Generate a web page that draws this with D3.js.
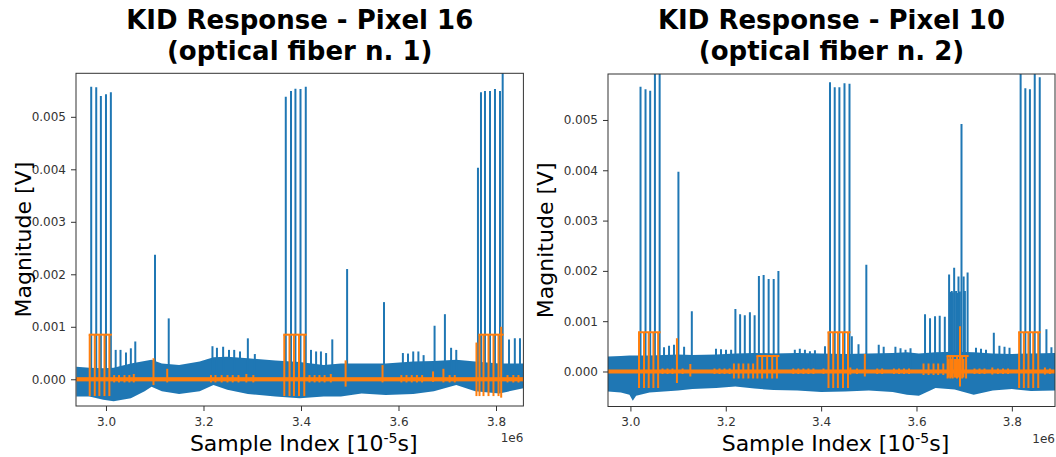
<!DOCTYPE html>
<html>
<head>
<meta charset="utf-8">
<script src="https://cdn.jsdelivr.net/npm/d3@7"></script>
<style>
  body { margin: 0; background: #fff; }
  svg { display: block; }
  text { font-family: "DejaVu Sans", sans-serif; }
</style>
</head>
<body>
<svg id="chart" width="1056" height="457"></svg>
<script>
// Shared tick values (x in units of 1e6 samples, y in volts)
const xTickValues = [3.0, 3.2, 3.4, 3.6, 3.8];
const yTickValues = [0, 0.001, 0.002, 0.003, 0.004, 0.005];

// ---------- Pixel 16 (optical fiber n. 1) ----------
const p16XDomain = [2.9385, 3.8562];
const p16YDomain = [-0.000509, 0.005829];
// noise band envelope of the raw magnitude
const p16EnvX  = [2.9393, 2.966, 2.9945, 3.0157, 3.051, 3.0793, 3.0934, 3.1146, 3.15, 3.1922, 3.2205, 3.2488, 3.291, 3.3476, 3.3971, 3.4466, 3.4819, 3.5243, 3.5737, 3.6302, 3.6726, 3.7185, 3.7573, 3.8068, 3.8562];
const p16EnvHi = [0.00024, 0.00022, 0.00021, 0.00022, 0.00030, 0.00035, 0.00037, 0.00030, 0.00027, 0.00034, 0.00042, 0.00043, 0.00040, 0.00036, 0.00033, 0.00027, 0.00030, 0.00030, 0.00030, 0.00034, 0.00035, 0.00037, 0.00034, 0.00030, 0.00030];
const p16EnvLo = [-0.00033, -0.00033, -0.00039, -0.00042, -0.00036, -0.00023, -0.00014, -0.00023, -0.00028, -0.00023, -0.00011, -0.00020, -0.00028, -0.00033, -0.00036, -0.00033, -0.00033, -0.00027, -0.00030, -0.00028, -0.00023, -0.00011, -0.00023, -0.00027, -0.00017];
// pulses: raw peak (blue) and filtered excursion (orange)
const p16SpikeX   = [2.9697, 2.980, 2.9895, 3.000, 3.010, 3.0199, 3.0298, 3.041, 3.051, 3.0601, 3.1005, 3.1287, 3.2184, 3.2276, 3.2403, 3.2523, 3.263, 3.2749, 3.291, 3.3053, 3.3688, 3.3795, 3.3886, 3.399, 3.4098, 3.4205, 3.431, 3.4409, 3.4515, 3.4642, 3.4946, 3.5703, 3.609, 3.6195, 3.6302, 3.6408, 3.6515, 3.674, 3.6952, 3.7079, 3.7185, 3.763, 3.7692, 3.7774, 3.7877, 3.7979, 3.8082, 3.8137, 3.8267, 3.8386, 3.8492];
const p16SpikeTop = [0.005573, 0.005562, 0.005396, 0.005429, 0.005467, 0.00056, 0.00056, 0.00051, 0.00059, 0.00072, 0.00237, 0.00116, 0.00063, 0.00060, 0.00062, 0.00056, 0.00056, 0.00053, 0.00078, 0.00048, 0.005383, 0.005491, 0.005535, 0.00553, 0.005573, 0.00056, 0.00053, 0.00053, 0.00050, 0.00076, 0.00210, 0.00147, 0.00050, 0.00049, 0.00053, 0.00053, 0.00046, 0.00102, 0.00124, 0.00060, 0.00056, 0.00403, 0.00547, 0.00549, 0.00549, 0.00553, 0.00549, 0.00620, 0.00076, 0.00078, 0.00078];
const p16OrangeHi = [0.00085, 0.00085, 0.00085, 0.00085, 0.00085, 0.00008, 0.00008, 0.00008, 0.00008, 0.00010, 0.00040, 0.00020, 0.00008, 0.00008, 0.00008, 0.00008, 0.00008, 0.00008, 0.00010, 0.00008, 0.00085, 0.00085, 0.00085, 0.00085, 0.00085, 0.00008, 0.00008, 0.00008, 0.00008, 0.00010, 0.00036, 0.00027, 0.00008, 0.00008, 0.00008, 0.00008, 0.00008, 0.00015, 0.00020, 0.00008, 0.00008, 0.00070, 0.00085, 0.00085, 0.00085, 0.00085, 0.00085, 0.00100, 0.00008, 0.00008, 0.00008];
const p16OrangeLo = [-0.00032, -0.00032, -0.00032, -0.00032, -0.00032, -0.00006, -0.00006, -0.00006, -0.00006, -0.00006, -0.00011, -0.00006, -0.00006, -0.00006, -0.00006, -0.00006, -0.00006, -0.00006, -0.00006, -0.00006, -0.00032, -0.00032, -0.00032, -0.00032, -0.00032, -0.00006, -0.00006, -0.00006, -0.00006, -0.00006, -0.00014, -0.00006, -0.00006, -0.00006, -0.00006, -0.00006, -0.00006, -0.00005, -0.00006, -0.00006, -0.00006, -0.00032, -0.00032, -0.00032, -0.00032, -0.00032, -0.00032, -0.00035, -0.00006, -0.00006, -0.00006];
// filtered plateaus during pulse trains
const p16TrainStart = [2.9697, 3.3688, 3.7692];
const p16TrainEnd   = [3.010, 3.4098, 3.8137];
const p16TrainLevel = [0.00085, 0.00085, 0.00085];

// ---------- Pixel 10 (optical fiber n. 2) ----------
const p10XDomain = [2.953, 3.8905];
const p10YDomain = [-0.000696, 0.005914];
const p10EnvX  = [2.953, 2.98, 2.998, 3.005, 3.012, 3.04, 3.07, 3.1, 3.13, 3.18, 3.22, 3.26, 3.3, 3.35, 3.4, 3.45, 3.5, 3.55, 3.58, 3.605, 3.64, 3.68, 3.72, 3.76, 3.8, 3.84, 3.8905];
const p10EnvHi = [0.00030, 0.00031, 0.00032, 0.00032, 0.00032, 0.00032, 0.00033, 0.00034, 0.00033, 0.00034, 0.00036, 0.00037, 0.00036, 0.00037, 0.00036, 0.00035, 0.00036, 0.00037, 0.00038, 0.00036, 0.00038, 0.00039, 0.00038, 0.00036, 0.00035, 0.00036, 0.00037];
const p10EnvLo = [-0.00040, -0.00042, -0.00046, -0.00058, -0.00048, -0.00042, -0.00040, -0.00038, -0.00035, -0.00033, -0.00030, -0.00034, -0.00037, -0.00038, -0.00041, -0.00040, -0.00038, -0.00041, -0.00046, -0.00048, -0.00033, -0.00036, -0.00046, -0.00038, -0.00035, -0.00039, -0.00038];
const p10SpikeX   = [3.0212, 3.0317, 3.0415, 3.0514, 3.0613, 3.0705, 3.081, 3.0914, 3.1007, 3.1126, 3.1288, 3.1795, 3.19, 3.2005, 3.2112, 3.2202, 3.2301, 3.2399, 3.2506, 3.2605, 3.2695, 3.2794, 3.2899, 3.3005, 3.3104, 3.3448, 3.3553, 3.366, 3.3765, 3.387, 3.4081, 3.4186, 3.4285, 3.4383, 3.449, 3.4595, 3.4644, 3.4784, 3.4948, 3.5208, 3.5312, 3.5558, 3.5665, 3.577, 3.5875, 3.6179, 3.6284, 3.6389, 3.6487, 3.6594, 3.6684, 3.6705, 3.674, 3.676, 3.679, 3.683, 3.6855, 3.6881, 3.691, 3.6944, 3.6989, 3.7015, 3.7072, 3.7248, 3.7353, 3.7458, 3.7622, 3.7739, 3.7846, 3.7951, 3.8184, 3.8283, 3.8379, 3.848, 3.8585, 3.8725, 3.883];
const p10SpikeTop = [0.00566, 0.00561, 0.00558, 0.00600, 0.00600, 0.00048, 0.00051, 0.00053, 0.00397, 0.00049, 0.00120, 0.00045, 0.00044, 0.00043, 0.00043, 0.00124, 0.00114, 0.00112, 0.00118, 0.00112, 0.00190, 0.00192, 0.00184, 0.00184, 0.00200, 0.00043, 0.00045, 0.00043, 0.00040, 0.00042, 0.00050, 0.00575, 0.00565, 0.00565, 0.00573, 0.00572, 0.00070, 0.00054, 0.00212, 0.00053, 0.00049, 0.00049, 0.00046, 0.00043, 0.00046, 0.00114, 0.00106, 0.00110, 0.00111, 0.00109, 0.00193, 0.00158, 0.00160, 0.00157, 0.00206, 0.00160, 0.00156, 0.00189, 0.00159, 0.00492, 0.00189, 0.00160, 0.00197, 0.00047, 0.00045, 0.00043, 0.00077, 0.00051, 0.00049, 0.00047, 0.00600, 0.00563, 0.00561, 0.00600, 0.00585, 0.00084, 0.00048];
const p10OrangeHi = [0.00078, 0.00078, 0.00078, 0.00078, 0.00078, 0.00006, 0.00006, 0.00006, 0.00066, 0.00006, 0.00015, 0.00006, 0.00006, 0.00006, 0.00006, 0.00016, 0.00016, 0.00016, 0.00016, 0.00016, 0.00031, 0.00031, 0.00031, 0.00031, 0.00031, 0.00006, 0.00006, 0.00006, 0.00006, 0.00006, 0.00006, 0.00078, 0.00078, 0.00078, 0.00078, 0.00078, 0.00008, 0.00006, 0.00035, 0.00006, 0.00006, 0.00006, 0.00006, 0.00006, 0.00006, 0.00016, 0.00016, 0.00016, 0.00016, 0.00016, 0.00031, 0.00025, 0.00031, 0.00025, 0.00031, 0.00025, 0.00025, 0.00031, 0.00025, 0.00090, 0.00031, 0.00025, 0.00031, 0.00006, 0.00006, 0.00006, 0.00008, 0.00006, 0.00006, 0.00006, 0.00078, 0.00078, 0.00078, 0.00078, 0.00078, 0.00008, 0.00006];
const p10OrangeLo = [-0.00033, -0.00033, -0.00033, -0.00033, -0.00033, -0.00005, -0.00005, -0.00005, -0.00023, -0.00005, -0.00010, -0.00005, -0.00005, -0.00005, -0.00005, -0.00014, -0.00014, -0.00014, -0.00014, -0.00014, -0.00014, -0.00014, -0.00014, -0.00014, -0.00014, -0.00005, -0.00005, -0.00005, -0.00005, -0.00005, -0.00005, -0.00033, -0.00033, -0.00033, -0.00033, -0.00033, -0.00006, -0.00005, -0.00010, -0.00005, -0.00005, -0.00005, -0.00005, -0.00005, -0.00005, -0.00007, -0.00007, -0.00007, -0.00007, -0.00007, -0.00014, -0.00012, -0.00014, -0.00012, -0.00014, -0.00012, -0.00012, -0.00014, -0.00012, -0.00030, -0.00014, -0.00012, -0.00014, -0.00005, -0.00005, -0.00005, -0.00006, -0.00005, -0.00005, -0.00005, -0.00033, -0.00033, -0.00033, -0.00033, -0.00033, -0.00006, -0.00005];
const p10TrainStart = [3.0212, 3.2695, 3.4186, 3.6684, 3.8184];
const p10TrainEnd   = [3.0613, 3.3104, 3.4595, 3.7072, 3.8585];
const p10TrainLevel = [0.00078, 0.00031, 0.00078, 0.00031, 0.00078];

const BLUE = "#1f77b4", ORANGE = "#ff7f0e";
const svg = d3.select("#chart");

function drawPanel(o) {
  const x = d3.scaleLinear().domain(o.xDomain).range([o.left, o.right]);
  const y = d3.scaleLinear().domain(o.yDomain).range([o.bottom, o.top]);
  const g = svg.append("g");
  const clipId = "clip-" + o.id;
  g.append("clipPath").attr("id", clipId)
    .append("rect").attr("x", o.left).attr("y", o.top)
    .attr("width", o.right - o.left).attr("height", o.bottom - o.top);
  const plot = g.append("g").attr("clip-path", `url(#${clipId})`);

  // raw magnitude: noise band + pulse peaks
  const env = o.envX.map((v, i) => ({ x: v, hi: o.envHi[i], lo: o.envLo[i] }));
  plot.append("path").datum(env)
    .attr("fill", BLUE)
    .attr("d", d3.area().x(d => x(d.x)).y0(d => y(d.lo)).y1(d => y(d.hi)));
  plot.selectAll("line.raw").data(o.spikeX).join("line").attr("class", "raw")
    .attr("x1", d => x(d)).attr("x2", d => x(d))
    .attr("y1", y(0)).attr("y2", (d, i) => y(o.spikeTop[i]))
    .attr("stroke", BLUE).attr("stroke-width", 2);

  // filtered signal: baseline, excursions and plateaus
  plot.append("rect")
    .attr("x", o.left).attr("width", o.right - o.left)
    .attr("y", y(0.00004)).attr("height", y(-0.00004) - y(0.00004))
    .attr("fill", ORANGE);
  plot.selectAll("line.filt").data(o.spikeX).join("line").attr("class", "filt")
    .attr("x1", d => x(d) - 1.5).attr("x2", d => x(d) - 1.5)
    .attr("y1", (d, i) => y(o.orangeLo[i])).attr("y2", (d, i) => y(o.orangeHi[i]))
    .attr("stroke", ORANGE).attr("stroke-width", 2);
  plot.selectAll("line.plateau").data(o.trainStart).join("line").attr("class", "plateau")
    .attr("x1", d => x(d) - 2.5).attr("x2", (d, i) => x(o.trainEnd[i]) + 1)
    .attr("y1", (d, i) => y(o.trainLevel[i])).attr("y2", (d, i) => y(o.trainLevel[i]))
    .attr("stroke", ORANGE).attr("stroke-width", 2);

  // axes
  const xAxis = g.append("g").attr("transform", `translate(0,${o.bottom})`)
    .call(d3.axisBottom(x).tickValues(xTickValues).tickFormat(d3.format(".1f")).tickSizeOuter(0).tickSize(5).tickPadding(6));
  const yAxis = g.append("g").attr("transform", `translate(${o.left},0)`)
    .call(d3.axisLeft(y).tickValues(yTickValues).tickFormat(d3.format(".3f")).tickSizeOuter(0).tickSize(5).tickPadding(5));
  [xAxis, yAxis].forEach(a => {
    a.select(".domain").remove();
    a.selectAll("line").attr("stroke", "#333");
    a.selectAll("text").attr("fill", "#333").style("font-size", "12px").style("font-family", '"DejaVu Sans", sans-serif');
  });
  g.append("rect").attr("x", o.left).attr("y", o.top)
    .attr("width", o.right - o.left).attr("height", o.bottom - o.top)
    .attr("fill", "none").attr("stroke", "#333").attr("stroke-width", 1);

  // offset text
  g.append("text").attr("x", o.right).attr("y", o.bottom + 36)
    .attr("text-anchor", "end").attr("fill", "#333").style("font-size", "12px").text("1e6");

  // axis labels
  const cx = (o.left + o.right) / 2;
  const xl = g.append("text").attr("x", cx + 4).attr("y", 451).attr("text-anchor", "middle")
    .style("font-size", "22px").attr("fill", "#000");
  xl.append("tspan").text("Sample Index [10");
  xl.append("tspan").attr("dy", -8).style("font-size", "14px").text("-5");
  xl.append("tspan").attr("dy", 8).text("s]");
  g.append("text")
    .attr("transform", `translate(${o.ylabelX},${(o.top + o.bottom) / 2}) rotate(-90)`)
    .attr("text-anchor", "middle").style("font-size", "22px").attr("fill", "#000")
    .text("Magnitude [V]");

  // title
  const t = g.append("text").attr("x", cx).attr("text-anchor", "middle")
    .style("font-size", "26px").style("font-weight", "bold").attr("fill", "#000");
  t.append("tspan").attr("x", cx).attr("y", 29).text(o.title[0]);
  t.append("tspan").attr("x", cx).attr("y", 60).text(o.title[1]);
}

drawPanel({
  id: "p16", left: 76, right: 523.4, top: 73.3, bottom: 406,
  xDomain: p16XDomain, yDomain: p16YDomain,
  envX: p16EnvX, envHi: p16EnvHi, envLo: p16EnvLo,
  spikeX: p16SpikeX, spikeTop: p16SpikeTop, orangeHi: p16OrangeHi, orangeLo: p16OrangeLo,
  trainStart: p16TrainStart, trainEnd: p16TrainEnd, trainLevel: p16TrainLevel,
  ylabelX: 31, title: ["KID Response - Pixel 16", "(optical fiber n. 1)"]
});
drawPanel({
  id: "p10", left: 608, right: 1055, top: 74, bottom: 406.5,
  xDomain: p10XDomain, yDomain: p10YDomain,
  envX: p10EnvX, envHi: p10EnvHi, envLo: p10EnvLo,
  spikeX: p10SpikeX, spikeTop: p10SpikeTop, orangeHi: p10OrangeHi, orangeLo: p10OrangeLo,
  trainStart: p10TrainStart, trainEnd: p10TrainEnd, trainLevel: p10TrainLevel,
  ylabelX: 553, title: ["KID Response - Pixel 10", "(optical fiber n. 2)"]
});
</script>
</body>
</html>
